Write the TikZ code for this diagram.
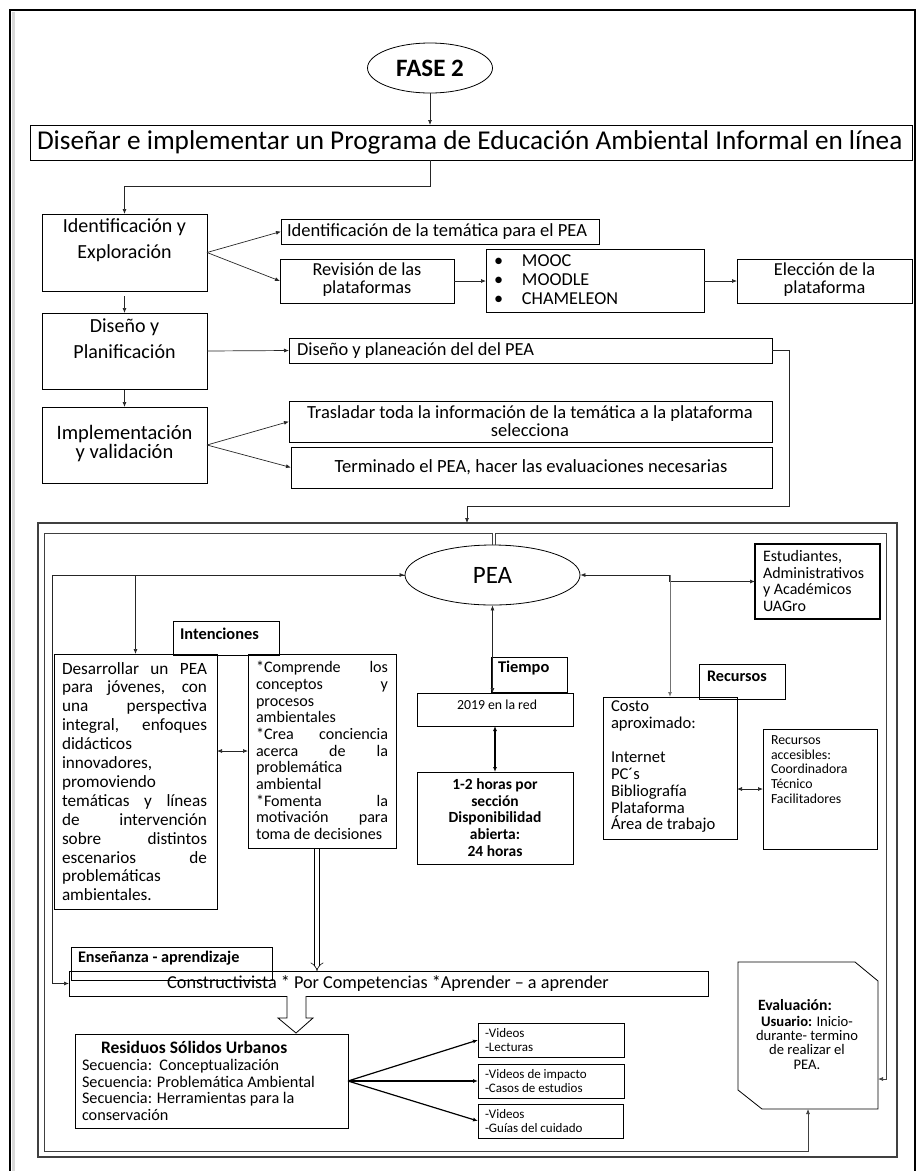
\documentclass[tikz,border=0pt]{standalone}
\usepackage{fontspec}
\setmainfont{Carlito}
\usetikzlibrary{arrows.meta,shapes.geometric,calc}
\newcommand{\fs}[2]{\fontsize{#1}{#2}\selectfont}
% rectangle from (x1,y1) to (x2,y2), y measured downwards
\newcommand{\panel}[6][]{\node[box,anchor=north west,minimum width={#5-#3},minimum height={#6-#4},#1] (#2) at (#3,#4) {};}
\newlength{\linew}
\newcommand{\jline}[1]{\makebox[\linew][s]{#1}}
\newcommand{\lline}[1]{\makebox[\linew][l]{#1}}
\begin{document}
\begin{tikzpicture}[x=1pt,y=-1pt,
  box/.style={draw,line width=0.8pt,inner sep=0pt,outer sep=0pt},
  txt/.style={inner sep=0pt,outer sep=0pt},
  con/.style={line width=0.7pt,draw=black!85},
  arr/.style={-{Latex[length=5pt,width=4pt]}},
  arrs/.style={{Latex[length=5pt,width=4pt]}-{Latex[length=5pt,width=4pt]}}]
\useasboundingbox (0,0) rectangle (917,1171);

% page frame
\draw[line width=3pt,black!15] (13.5,1171) -- (13.5,12);
\draw[line width=1.6pt] (10,1171) -- (10,10) -- (915,10) -- (915,1171);

% ---------- upper part ----------
\node[draw,ellipse,line width=0.8pt,minimum width=125,minimum height=50,inner sep=0pt,
      font=\bfseries\fs{25}{28}] (fase) at (430,68) {FASE 2};
\panel{titulo}{30}{125}{912}{160}
\node[txt,anchor=west,font=\fs{27.2}{28}] (tituloT) at (37,142.5)
  {Diseñar e implementar un Programa de Educación Ambiental Informal en línea};
\draw[con,arr] (fase.south) -- (fase.south |- titulo.north);

\panel{ident}{42}{214}{207}{291}
\panel{disen}{42}{313}{207}{389}
\panel{impl}{42}{407}{207}{483}
\node[txt,align=center,font=\fs{20}{26}] (identT) at (124.5,240) {Identificación y\\Exploración};
\node[txt,align=center,font=\fs{20}{26}] (disenT) at (124.5,339) {Diseño y\\Planificación};
\node[txt,align=center,font=\fs{20.5}{19}] (implT) at (124.5,444) {Implementación\\y validación};

\draw[con,arr] (fase.south |- titulo.south) -- (430,186) -| (ident.north);
\draw[con,arr] ($(ident.south)+(0,5)$) -- (disen.north);
\draw[con,arr] ($(disen.south)+(0,1)$) -- (impl.north);

\panel{tema}{281}{219}{599}{244}
\panel{revis}{280}{259}{454}{303}
\panel{plat}{486}{249}{704}{312}
\panel{elecc}{737}{259}{912}{303}
\panel{planea}{289}{338}{772}{363}
\panel{trasl}{289}{401}{772}{442}
\panel{termi}{291}{447}{772}{488}

\node[txt,anchor=west,font=\fs{18.5}{18}] (temaT) at (287,232) {Identificación de la temática para el PEA};
\node[txt,align=center,font=\fs{18.3}{18}] (revisT) at (367,280) {Revisión de las\\plataformas};
\node[txt,anchor=west,align=left,font=\fs{18.2}{19}] (platT) at (494,280)
  {\makebox[28pt][l]{•}MOOC\\\makebox[28pt][l]{•}MOODLE\\\makebox[28pt][l]{•}CHAMELEON};
\node[txt,align=center,font=\fs{18.3}{18}] (eleccT) at (824.5,280) {Elección de la\\plataforma};
\node[txt,anchor=west,font=\fs{18.4}{18}] (planeaT) at (297,351) {Diseño y planeación del del PEA};
\node[txt,align=center,font=\fs{18.5}{18}] (traslT) at (530,421)
  {Trasladar toda la información de la temática a la plataforma\\selecciona};
\node[txt,font=\fs{18.6}{18}] (termiT) at (531,467) {Terminado el PEA, hacer las evaluaciones necesarias};

\draw[con,arr] (ident.east) -- (tema.west);
\draw[con,arr] (ident.east) -- (revis.west);
\draw[con,arr] (revis.east) -- (plat.west |- revis.east);
\draw[con,arr] (plat.east |- revis.east) -- (elecc.west);
\draw[con,arr] (disen.east) -- (planea.west);
\draw[con,arr] (impl.east) -- (trasl.west);
\draw[con,arr] (impl.east) -- (termi.west);

% ---------- lower part ----------
\panel[line width=1.1pt,draw=black!75]{marco}{38}{523}{897}{1157}
\coordinate (bajada) at (467,506);
\draw[con,arr] (planea.east) -- (789,350.5) -- (789,506) -- (bajada) -- (bajada |- marco.north);

\node[draw,ellipse,line width=0.8pt,minimum width=175,minimum height=60,inner sep=0pt,
      font=\fs{25}{28}] (pea) at (492.5,575) {PEA};

% evaluation card
\draw[line width=0.8pt] (738,962) -- (855,962) -- (878,981) -- (878,1109) -- (762,1109) -- (738,1090) -- cycle;
\coordinate (evalB) at (808,1109);
\coordinate (evalR) at (878,1079);
\node[txt,anchor=west,font=\bfseries\fs{15.7}{17}] (evalT) at (758,1005) {Evaluación:};
\node[txt,align=center,font=\fs{14.6}{14.3}] (evalU) at (807,1042.5)
  {\textbf{Usuario:} Inicio-\\durante- termino\\de realizar el\\PEA.};

% loop lines round the panel
\draw[con,draw=black!75,arr] (pea.north) -- (492.5,533) -- (44,533) -- (44,1151) -- (808,1151) -- (evalB);
\draw[con,draw=black!75,arr] ([xshift=2.5pt]pea.north) -- (495,533) -- (886,533) -- (886,1079) -- (evalR);

% intentions
\panel{inten}{173}{621}{279}{655}
\node[txt,anchor=west,font=\bfseries\fs{16.4}{17}] (intenT) at (180,634) {Intenciones};
\panel{desa}{54}{654}{217}{909}
\panel{compr}{248}{654}{396}{848}
\setlength{\linew}{145pt}
\node[txt,anchor=west,align=left,font=\fs{17.2}{18.9}] (desaT) at (62,781.5)
  {\jline{Desarrollar un PEA}\\\jline{para jóvenes, con}\\\jline{una perspectiva}\\
   \jline{integral, enfoques}\\\lline{didácticos}\\\lline{innovadores,}\\\lline{promoviendo}\\
   \jline{temáticas y líneas}\\\jline{de intervención}\\\jline{sobre distintos}\\
   \jline{escenarios de}\\\lline{problemáticas}\\\lline{ambientales.}};
\setlength{\linew}{132pt}
\node[txt,anchor=west,align=left,font=\fs{16.1}{16.7}] (comprT) at (256,750.5)
  {\jline{*Comprende los}\\\jline{conceptos y}\\\lline{procesos}\\\lline{ambientales}\\
   \jline{*Crea conciencia}\\\jline{acerca de la}\\\lline{problemática}\\\lline{ambiental}\\
   \jline{*Fomenta la}\\\jline{motivación para}\\\lline{toma de decisiones}};
\draw[con,arrs] (desa.east |- compr.west) -- (compr.west);
\draw[con,arr] (pea.west) -- (52,575) -- (52,983.5) -- (69,983.5);
\draw[con,arr] (52,575) -- (pea.west);
\draw[con,arr] (135.5,575) -- (desa.north);

% time
\panel{tiempo}{491}{657}{567}{692}
\node[txt,anchor=west,font=\bfseries\fs{16.4}{17}] (tiempoT) at (498,668) {Tiempo};
\panel{red}{417}{693}{573}{726}
\node[txt,font=\fs{13.8}{15}] (redT) at (497,705) {2019 en la red};
\panel{horas}{417}{772}{573}{864}
\node[txt,align=center,font=\bfseries\fs{15.5}{16.8}] (horasT) at (495,817.5)
  {1-2 horas por\\sección\\Disponibilidad\\abierta:\\24 horas};
\draw[con,arrs] (pea.south) -- (pea.south |- red.north);
\draw[line width=1.6pt,arrs] (red.south) -- (horas.north);

% users and resources
\panel[line width=2pt]{estu}{755}{544}{880}{619}
\node[txt,anchor=west,align=left,font=\fs{16}{16.7}] (estuT) at (763,581)
  {Estudiantes,\\Administrativos\\y Académicos\\UAGro};
\panel{recur}{699}{664}{785}{699}
\node[txt,anchor=west,font=\bfseries\fs{16.2}{17}] (recurT) at (707,676) {Recursos};
\panel{costo}{603}{697}{737}{839}
\node[txt,anchor=west,align=left,font=\fs{16.6}{16.86}] (costoT) at (611,767)
  {Costo\\aproximado:\\[16.86pt]Internet\\PC´s\\Bibliografía\\Plataforma\\Área de trabajo};
\panel{acces}{763}{729}{877}{849}
\node[txt,anchor=west,align=left,font=\fs{13.8}{14.75}] (accesT) at (771,769.5)
  {Recursos\\accesibles:\\Coordinadora\\Técnico\\Facilitadores};
\draw[con,arrs] (pea.east) -- (669,575) -- (669,581.5) -- (estu.west);
\draw[con,draw=black!55,line width=1pt,arr] (670,575) -- (costo.north);
\draw[con,arrs] (costo.east |- acces.west) -- (acces.west);

% teaching approach
\panel{constr}{69}{971}{708}{996}
\panel{ensen}{71}{947}{272}{980}
\node[txt,anchor=west,font=\bfseries\fs{16.2}{17}] (ensenT) at (78,958) {Enseñanza - aprendizaje};
\node[txt,font=\fs{18.2}{18}] (constrT) at (388,983.5)
  {Constructivista * Por Competencias *Aprender – a aprender};
\coordinate (doble) at (317,849);
\draw[line width=0.6pt,double distance=4pt,-{Implies}] (doble) -- (doble |- constr.north);
\draw[line width=0.8pt,fill=white] (287,996) -- (287,1018) -- (278,1018) -- (296,1033)
  -- (313,1018) -- (306,1018) -- (306,996);

% solid waste unit
\panel{resid}{75}{1034}{348}{1128}
\node[txt,anchor=west,font=\bfseries\fs{17.5}{17}] (residT) at (101,1047) {Residuos Sólidos Urbanos};
\node[txt,anchor=west,align=left,font=\fs{16.2}{16.7}] (residS) at (82,1090)
  {Secuencia:\ \ Conceptualización\\Secuencia: Problemática Ambiental\\Secuencia: Herramientas para la\\conservación};
\panel{vidA}{478}{1023}{624}{1057}
\panel{vidB}{478}{1064}{624}{1098}
\panel{vidC}{478}{1104}{623}{1138}
\node[txt,anchor=west,align=left,font=\fs{13}{14}] (vidAT) at (485,1040) {-Videos\\-Lecturas};
\node[txt,anchor=west,align=left,font=\fs{13}{14}] (vidBT) at (485,1081) {-Videos de impacto\\-Casos de estudios};
\node[txt,anchor=west,align=left,font=\fs{13}{14}] (vidCT) at (485,1121) {-Videos\\-Guías del cuidado};
\draw[line width=1.2pt,arr] (resid.east) -- (vidA.west);
\draw[line width=1.2pt,arrs] (resid.east) -- (vidB.west);
\draw[line width=1.2pt,arr] (resid.east) -- (vidC.west);
\end{tikzpicture}
\end{document}
